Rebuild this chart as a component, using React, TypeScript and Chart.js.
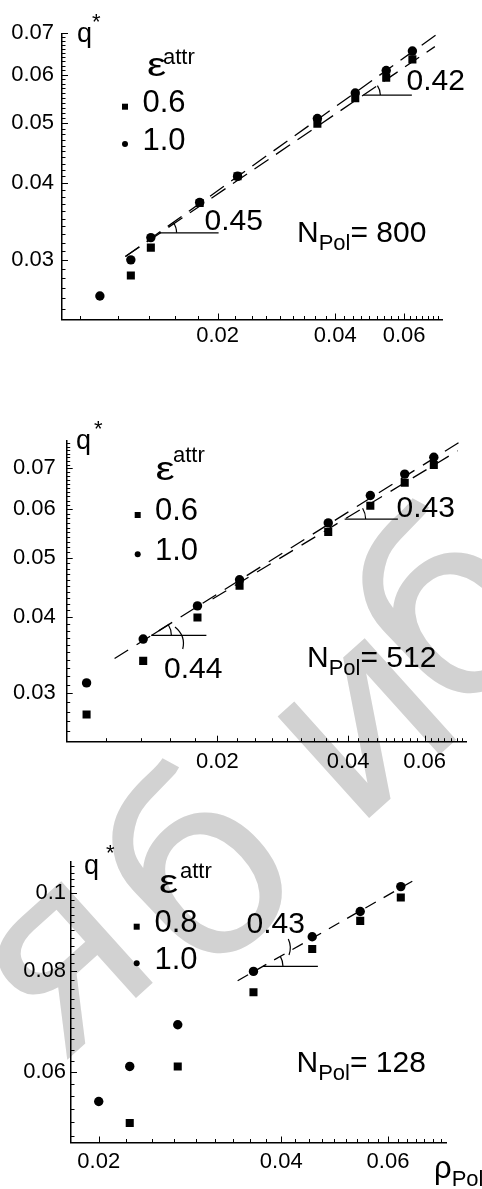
import React, { useEffect, useRef } from 'react';
import { Chart, registerables } from 'chart.js';

Chart.register(...registerables);

const W = 482;
const FONT = "'Liberation Sans', Arial, Helvetica, sans-serif";

// ---------- N_Pol = 800 ----------
const rho800 = [0.01, 0.012, 0.0135, 0.018, 0.0225, 0.036, 0.045, 0.054, 0.063];
const q800eps10 = [0.0262, 0.03, 0.0326, 0.0372, 0.041, 0.0509, 0.056, 0.0609, 0.0655];
const q800eps06 = [null, 0.0283, 0.0314, 0.0371, 0.041, 0.0499, 0.0549, 0.0593, 0.0635];
const fit800aRho = [0.01162, 0.0727];
const fit800aQ = [0.03037, 0.0697];
const fit800bRho = [0.01162, 0.0719];
const fit800bQ = [0.03037, 0.0666];

// ---------- N_Pol = 512 ----------
const rho512 = [0.01, 0.0135, 0.018, 0.0225, 0.036, 0.045, 0.054, 0.063];
const q512eps10 = [0.0312, 0.0368, 0.0417, 0.046, 0.057, 0.0632, 0.0685, 0.073];
const q512eps06 = [0.0277, 0.0339, 0.0399, 0.045, 0.0551, 0.0608, 0.0663, 0.0709];
const fit512aRho = [0.0116, 0.0729];
const fit512aQ = [0.0342, 0.0776];
const fit512bRho = [0.0195, 0.0715];
const fit512bQ = [0.0428, 0.0748];

// ---------- N_Pol = 128 ----------
const rho128 = [0.02, 0.0225, 0.027, 0.036, 0.045, 0.054, 0.063];
const q128eps10 = [0.0552, 0.061, 0.0687, 0.08, 0.0883, 0.0949, 0.1019];
const q128eps08 = [null, 0.0519, 0.061, 0.0754, 0.0853, 0.0924, 0.0988];
const fit128Rho = [0.0339, 0.0669];
const fit128Q = [0.0779, 0.1042];

// ---------- ticks / labels ----------
const xTickValues = [0.02, 0.04, 0.06];
const xTickLabels = ['0.02', '0.04', '0.06'];
const yTickValuesSmall = [0.03, 0.04, 0.05, 0.06, 0.07];
const yTickLabelsSmall = ['0.03', '0.04', '0.05', '0.06', '0.07'];
const yTickValues128 = [0.06, 0.08, 0.1];
const yTickLabels128 = ['0.06', '0.08', '0.1'];

const eps800 = ['0.6', '1.0'];
const eps512 = ['0.6', '1.0'];
const eps128 = ['0.8', '1.0'];
const slopes800 = ['0.45', '0.42'];
const slopes512 = ['0.44', '0.43'];
const slopes128 = ['0.43'];

// background watermark letters
const watermarkLetters = ['я', 'б', 'и', 'б'];

type Series = { rho: number[]; q: (number | null)[] };
type Ann = {
  x0: number; x1: number; fit: number; r: number; text: string; tx: number; ty: number;
  seg?: number; pointer?: number[];
};
type Panel = {
  key: string; top: number; height: number;
  area: { left: number; top: number; right: number; bottom: number };
  xMin: number; xMax: number; yMin: number; yMax: number;
  xStep: number; yStep: number;
  yTicks: number[]; yLabels: string[];
  yPad: number; xPad: number;
  circles: Series; squares: Series;
  fits: { rho: number[]; q: number[] }[];
  dash: number[];
  eps: string[]; nPol: string;
  qPos: number[]; epsPos: number[]; legPos: number[]; legTextX: number;
  nPos: number[]; anns: Ann[]; rhoLabel?: number[];
};

const panels: Panel[] = [
  {
    key: 'p800', top: 0, height: 370,
    area: { left: 62, top: 33.3, right: 442, bottom: 319.5 },
    xMin: 0.008, xMax: 0.075, yMin: 0.024, yMax: 0.07,
    xStep: 0.02 / 9, yStep: 0.001,
    yTicks: yTickValuesSmall, yLabels: yTickLabelsSmall, yPad: 8, xPad: 3,
    circles: { rho: rho800, q: q800eps10 }, squares: { rho: rho800, q: q800eps06 },
    fits: [{ rho: fit800aRho, q: fit800aQ }, { rho: fit800bRho, q: fit800bQ }],
    dash: [17, 9],
    eps: eps800, nPol: '800',
    qPos: [77, 41.8, 92, 12], epsPos: [147, 75.5, 163, 63.5],
    legPos: [125, 106.7, 125, 144], legTextX: 142.5,
    nPos: [297, 241.7],
    anns: [
      { x0: 0.01413, x1: 0.02012, fit: 0, r: 18, text: slopes800[0], tx: 204.5, ty: 230 },
      { x0: 0.0472, x1: 0.0628, fit: 1, r: 17, text: slopes800[1], tx: 406.5, ty: 90 },
    ],
  },
  {
    key: 'p512', top: 370, height: 420,
    area: { left: 66.7, top: 71, right: 466.7, bottom: 371.7 },
    xMin: 0.009, xMax: 0.075, yMin: 0.025, yMax: 0.0776,
    xStep: 0.02 / 9, yStep: 0.001,
    yTicks: yTickValuesSmall, yLabels: yTickLabelsSmall, yPad: 11, xPad: 7.5,
    circles: { rho: rho512, q: q512eps10 }, squares: { rho: rho512, q: q512eps06 },
    fits: [{ rho: fit512aRho, q: fit512aQ }, { rho: fit512bRho, q: fit512bQ }],
    dash: [16, 10],
    eps: eps512, nPol: '512',
    qPos: [76, 448.5, 94, 419], epsPos: [155.5, 480, 173, 462],
    legPos: [137.7, 515, 137.7, 554.3], legTextX: 155,
    nPos: [307, 666.7],
    anns: [
      {
        x0: 0.0141, x1: 0.01887, fit: 0, r: 20, text: slopes512[0], tx: 164, ty: 677.7,
        seg: 21, pointer: [175, 627, 186, 636, 182.7, 649],
      },
      { x0: 0.03927, x1: 0.05208, fit: 1, r: 21, text: slopes512[1], tx: 396.5, ty: 516.7 },
    ],
  },
  {
    key: 'p128', top: 790, height: 399,
    area: { left: 71, top: 71.7, right: 446.7, bottom: 352.5 },
    xMin: 0.018, xMax: 0.075, yMin: 0.0491, yMax: 0.1094,
    xStep: 0.02 / 9, yStep: 0.002,
    yTicks: yTickValues128, yLabels: yTickLabels128, yPad: 5, xPad: 6.5,
    circles: { rho: rho128, q: q128eps10 }, squares: { rho: rho128, q: q128eps08 },
    fits: [{ rho: fit128Rho, q: fit128Q }],
    dash: [12, 9],
    eps: eps128, nPol: '128',
    qPos: [84, 873.5, 106, 843], epsPos: [159, 893, 180, 878],
    legPos: [136.7, 926.7, 136.7, 963.3], legTextX: 154.5,
    nPos: [296.5, 1071.7],
    anns: [
      {
        x0: 0.03732, x1: 0.04598, fit: 0, r: 20, text: slopes128[0], tx: 246.5, ty: 932.7,
        pointer: [288.3, 939, 292, 947, 289, 955],
      },
    ],
    rhoLabel: [434, 1178],
  },
];

function toPoints(s: Series) {
  const pts: { x: number; y: number }[] = [];
  s.rho.forEach((r, i) => {
    const v = s.q[i];
    if (v !== null && v !== undefined) pts.push({ x: r, y: v });
  });
  return pts;
}

function labelFor(v: number, vals: number[], labels: string[]) {
  const i = vals.findIndex((t) => Math.abs(t - v) < 1e-9);
  return i >= 0 ? labels[i] : '';
}

function overlayPlugin(p: Panel) {
  return {
    id: 'overlay_' + p.key,
    afterDraw(chart: any) {
      const ctx: CanvasRenderingContext2D = chart.ctx;
      const xs = chart.scales.x;
      const ys = chart.scales.y;
      const a = chart.chartArea;
      const off = p.top;
      ctx.save();
      ctx.strokeStyle = '#000';
      ctx.fillStyle = '#000';
      ctx.lineWidth = 1;
      ctx.textBaseline = 'alphabetic';
      ctx.textAlign = 'left';

      // tick marks pointing inward
      const kx0 = Math.ceil(p.xMin / p.xStep - 1e-6);
      const kx1 = Math.floor(p.xMax / p.xStep + 1e-6);
      for (let k = kx0; k <= kx1; k++) {
        const v = k * p.xStep;
        const major = xTickValues.some((t) => Math.abs(t - v) < p.xStep * 0.01);
        const px = Math.round(xs.getPixelForValue(v)) + 0.5;
        if (px < a.left + 2) continue;
        ctx.beginPath();
        ctx.moveTo(px, a.bottom);
        ctx.lineTo(px, a.bottom - (major ? 6 : 3.5));
        ctx.stroke();
      }
      const ky0 = Math.ceil(p.yMin / p.yStep - 1e-6);
      const ky1 = Math.floor(p.yMax / p.yStep + 1e-6);
      for (let k = ky0; k <= ky1; k++) {
        const v = k * p.yStep;
        const major = p.yTicks.some((t) => Math.abs(t - v) < p.yStep * 0.01);
        const py = Math.round(ys.getPixelForValue(v)) + 0.5;
        if (py > a.bottom - 2) continue;
        ctx.beginPath();
        ctx.moveTo(a.left, py);
        ctx.lineTo(a.left + (major ? 6 : 3.5), py);
        ctx.stroke();
      }

      const text = (s: string, x: number, y: number, size: number) => {
        ctx.font = `${size}px ${FONT}`;
        ctx.fillText(s, x, y - off);
        return ctx.measureText(s).width;
      };

      // q*
      text('q', p.qPos[0], p.qPos[1], 27);
      ctx.textBaseline = 'top';
      text('*', p.qPos[2], p.qPos[3], 22);
      ctx.textBaseline = 'alphabetic';

      // epsilon^attr (epsilon drawn a little wider, as in the original)
      ctx.save();
      ctx.translate(p.epsPos[0], p.epsPos[1] - off);
      ctx.scale(1.3, 1);
      ctx.font = `33px ${FONT}`;
      ctx.fillText('\u03b5', 0, 0);
      ctx.restore();
      text('attr', p.epsPos[2], p.epsPos[3], 22);

      // legend
      const [sx, sy, cx, cy] = p.legPos;
      ctx.fillRect(sx - 3, sy - off - 3, 6, 6);
      ctx.beginPath();
      ctx.arc(cx, cy - off, 3, 0, Math.PI * 2);
      ctx.fill();
      text(p.eps[0], p.legTextX, sy + 5, 31);
      text(p.eps[1], p.legTextX, cy + 5.5, 31);

      // N_Pol label
      let nx = p.nPos[0];
      nx += text('N', nx, p.nPos[1], 30);
      nx += text('Pol', nx, p.nPos[1] + 8, 22);
      text('= ' + p.nPol, nx, p.nPos[1], 30);

      // rho_Pol axis label
      if (p.rhoLabel) {
        const w = text('\u03c1', p.rhoLabel[0], p.rhoLabel[1], 31);
        text('Pol', p.rhoLabel[0] + w, p.rhoLabel[1] + 8, 22);
      }

      // slope annotations
      p.anns.forEach((an) => {
        const f = p.fits[an.fit];
        const slope = Math.log(f.q[1] / f.q[0]) / Math.log(f.rho[1] / f.rho[0]);
        const y0 = f.q[0] * Math.pow(an.x0 / f.rho[0], slope);
        const px = xs.getPixelForValue(an.x0);
        const py = ys.getPixelForValue(y0);
        const px1 = xs.getPixelForValue(an.x1);
        const ax0 = xs.getPixelForValue(f.rho[0]);
        const ay0 = ys.getPixelForValue(f.q[0]);
        const ax1 = xs.getPixelForValue(f.rho[1]);
        const ay1 = ys.getPixelForValue(f.q[1]);
        const ang = Math.atan2(ay1 - ay0, ax1 - ax0);
        ctx.lineWidth = 1.2;
        ctx.beginPath();
        ctx.moveTo(px, py);
        ctx.lineTo(px1, py);
        ctx.stroke();
        ctx.beginPath();
        ctx.arc(px, py, an.r, ang, 0);
        ctx.stroke();
        if (an.seg) {
          ctx.beginPath();
          ctx.moveTo(px, py);
          ctx.lineTo(px + an.seg * Math.cos(ang), py + an.seg * Math.sin(ang));
          ctx.stroke();
        }
        if (an.pointer) {
          const q = an.pointer;
          ctx.beginPath();
          ctx.moveTo(q[0], q[1] - off);
          ctx.quadraticCurveTo(q[2], q[3] - off, q[4], q[5] - off);
          ctx.stroke();
        }
        ctx.lineWidth = 1;
        text(an.text, an.tx, an.ty, 30);
      });

      ctx.restore();
    },
  };
}

function buildConfig(p: Panel): any {
  const fitSets = p.fits.map((f) => ({
    data: f.rho.map((r, i) => ({ x: r, y: f.q[i] })),
    showLine: true,
    borderColor: '#000',
    borderWidth: 1.3,
    borderDash: p.dash,
    pointRadius: 0,
    fill: false,
  }));
  return {
    type: 'scatter',
    data: {
      datasets: [
        {
          data: toPoints(p.circles),
          pointStyle: 'circle',
          pointRadius: 4.7,
          backgroundColor: '#000',
          borderColor: '#000',
          borderWidth: 0,
        },
        {
          data: toPoints(p.squares),
          pointStyle: 'rect',
          pointRadius: 5.7,
          backgroundColor: '#000',
          borderColor: '#000',
          borderWidth: 0,
        },
        ...fitSets,
      ],
    },
    options: {
      animation: false,
      responsive: false,
      maintainAspectRatio: false,
      devicePixelRatio: 1,
      events: [],
      layout: { padding: { left: 0, top: p.area.top, right: W - p.area.right, bottom: 0 } },
      plugins: { legend: { display: false }, tooltip: { enabled: false } },
      scales: {
        x: {
          type: 'logarithmic',
          position: 'bottom',
          min: p.xMin,
          max: p.xMax,
          bounds: 'data',
          afterBuildTicks: (s: any) => {
            s.ticks = xTickValues.map((v) => ({ value: v }));
          },
          afterFit: (s: any) => {
            s.height = p.height - p.area.bottom;
          },
          ticks: {
            callback: (v: number) => labelFor(v, xTickValues, xTickLabels),
            font: { family: FONT, size: 22 },
            color: '#000',
            padding: p.xPad,
            maxRotation: 0,
            autoSkip: false,
          },
          grid: { display: false, drawTicks: false },
          border: { display: true, color: '#000', width: 1.5 },
        },
        y: {
          type: 'logarithmic',
          position: 'left',
          min: p.yMin,
          max: p.yMax,
          bounds: 'data',
          afterBuildTicks: (s: any) => {
            s.ticks = p.yTicks.map((v) => ({ value: v }));
          },
          afterFit: (s: any) => {
            s.width = p.area.left;
          },
          ticks: {
            callback: (v: number) => labelFor(v, p.yTicks, p.yLabels),
            font: { family: FONT, size: 22 },
            color: '#000',
            padding: p.yPad,
            autoSkip: false,
          },
          grid: { display: false, drawTicks: false },
          border: { display: true, color: '#000', width: 1.5 },
        },
      },
    },
    plugins: [overlayPlugin(p)],
  };
}

function PanelChart({ p }: { p: Panel }) {
  const ref = useRef<HTMLCanvasElement>(null);
  useEffect(() => {
    const chart = new Chart(ref.current as HTMLCanvasElement, buildConfig(p));
    return () => chart.destroy();
  }, [p]);
  return (
    <canvas
      ref={ref}
      width={W}
      height={p.height}
      style={{ position: 'absolute', left: 0, top: p.top, width: W, height: p.height }}
    />
  );
}

const watermarkPos = [
  [55, 955],
  [200, 870],
  [355, 715],
  [450, 610],
];

export default function App() {
  return (
    <div
      style={{
        position: 'absolute',
        left: 0,
        top: 0,
        width: W,
        height: 1189,
        background: '#fff',
        overflow: 'hidden',
      }}
    >
      {watermarkLetters.map((ch, i) => (
        <div
          key={'wm' + i}
          style={{
            position: 'absolute',
            left: watermarkPos[i][0],
            top: watermarkPos[i][1],
            transform: 'translate(-50%, -50%) rotate(-42deg)',
            fontFamily: "'DejaVu Sans', sans-serif",
            fontSize: 250,
            lineHeight: 1,
            color: '#d2d2d2',
            whiteSpace: 'nowrap',
          }}
        >
          {ch}
        </div>
      ))}
      {panels.map((p) => (
        <PanelChart key={p.key} p={p} />
      ))}
    </div>
  );
}
